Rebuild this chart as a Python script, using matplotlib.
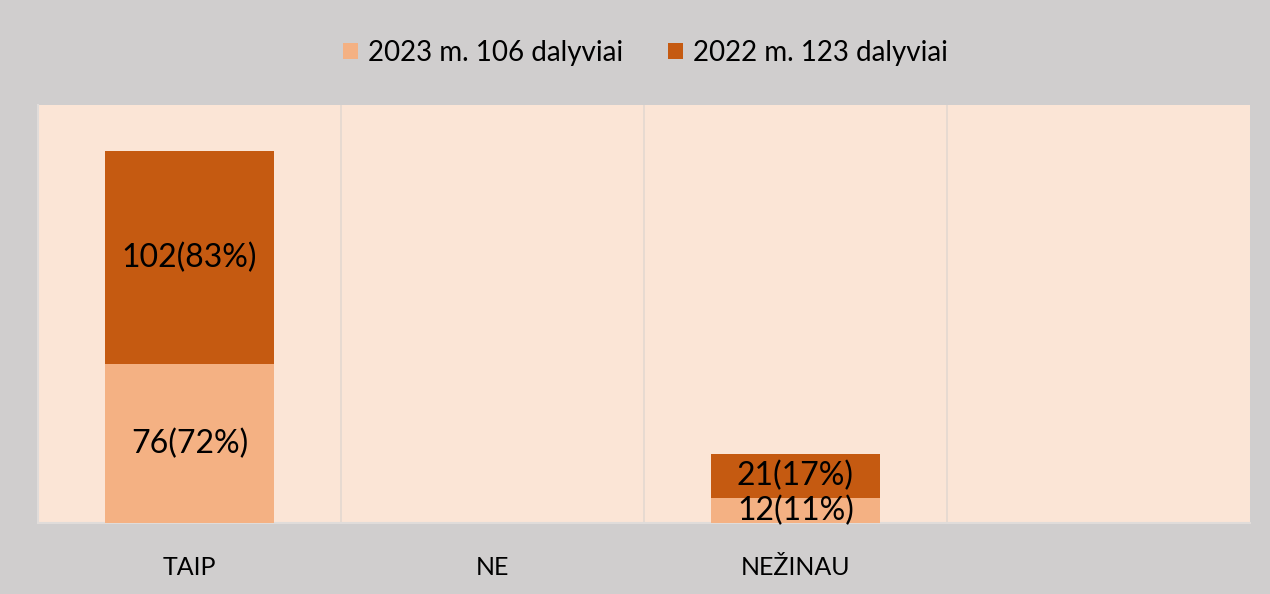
import matplotlib.pyplot as plt
import numpy as np

# data
categories = ['TAIP', 'NE', 'NEŽINAU', '']
vals_2023 = [76, 0, 12, 0]
vals_2022 = [102, 0, 21, 0]
pct_2023 = [72, 0, 11, 0]
pct_2022 = [83, 0, 17, 0]
series_names = ['2023 m. 106 dalyviai', '2022 m. 123 dalyviai']

plt.rcParams['font.family'] = ['Lato', 'DejaVu Sans']

fig = plt.figure(figsize=(12.7, 5.94), dpi=100)
fig.patch.set_facecolor('#D0CECE')
ax = fig.add_axes([0.0299, 0.1195, 0.9543, 0.7037])
ax.set_facecolor('#FBE5D6')

x = np.arange(len(categories))
c23 = '#F4B183'
c22 = '#C55A11'
ax.bar(x, vals_2023, width=0.56, color=c23, label=series_names[0], zorder=3)
ax.bar(x, vals_2022, width=0.56, bottom=vals_2023, color=c22, label=series_names[1], zorder=3)

for i in range(len(categories)):
    if vals_2023[i] > 0:
        ax.text(x[i], vals_2023[i] / 2, f'{vals_2023[i]}({pct_2023[i]}%)',
                ha='center', va='center', fontsize=23, zorder=4)
    if vals_2022[i] > 0:
        ax.text(x[i], vals_2023[i] + vals_2022[i] / 2, f'{vals_2022[i]}({pct_2022[i]}%)',
                ha='center', va='center', fontsize=23, zorder=4)

ax.set_xlim(-0.5, len(categories) - 0.5)
ax.set_ylim(0, 200)
ax.set_yticks([])
ax.set_xticks(x)
ax.set_xticklabels(categories, fontsize=18)
ax.tick_params(axis='x', length=0, pad=24)

# vertical separators between categories
for xs in x[:-1] + 0.5:
    ax.axvline(xs, color='#E3D8D0', lw=1.2, zorder=1)

for s in ['top', 'right']:
    ax.spines[s].set_visible(False)
ax.spines['left'].set_color('#E0DCDA')
ax.spines['bottom'].set_color('#E0DCDA')
ax.spines['left'].set_linewidth(1.5)
ax.spines['bottom'].set_linewidth(1.5)

fig.legend(loc='upper center', bbox_to_anchor=(0.508, 0.975), ncol=2, frameon=False,
           fontsize=20, handlelength=0.55, handleheight=0.55, handletextpad=0.35,
           columnspacing=1.6)

fig.savefig('out.png', dpi=100, facecolor=fig.get_facecolor())
